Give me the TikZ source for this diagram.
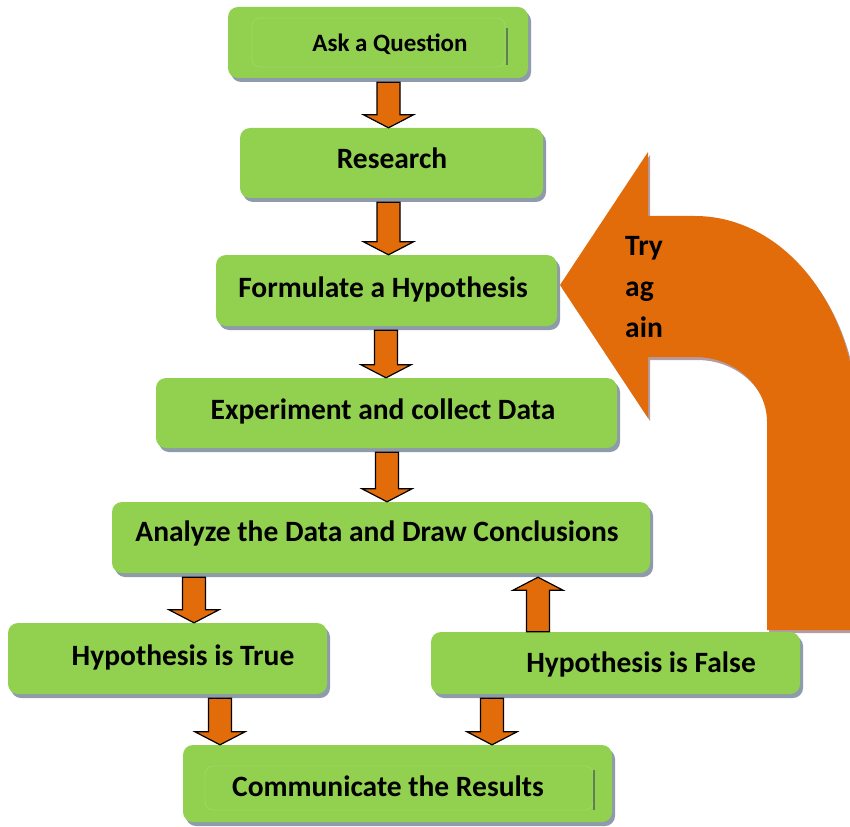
\documentclass[tikz,border=0pt]{standalone}
\usepackage{fontspec}
\setmainfont{Carlito}
\usetikzlibrary{shadows,calc}
\definecolor{boxgreen}{HTML}{92D050}
\definecolor{innergreen}{HTML}{9DD763}
\definecolor{shadowgray}{HTML}{8E9BAA}
\definecolor{arrorange}{HTML}{E36C0A}
\definecolor{bigshadow}{HTML}{B59CA0}
\definecolor{barline}{HTML}{5F7F55}
\newcommand\mydarr[3]{%
  \draw[blockarr] let \p1=(#1.south), \p2=(#2.north) in
  ({#3pt-11.5pt},\y1-4pt) -- ({#3pt+11.5pt},\y1-4pt) -- ({#3pt+11.5pt},\y2+13pt)
  -- ({#3pt+25pt},\y2+13pt) -- (#3pt,\y2) -- ({#3pt-25pt},\y2+13pt)
  -- ({#3pt-11.5pt},\y2+13pt) -- cycle;}
\newcommand\myuarr[3]{%
  \draw[blockarr] let \p1=(#1.north), \p2=(#2.south) in
  ({#3pt-11.5pt},\y1) -- ({#3pt+11.5pt},\y1) -- ({#3pt+11.5pt},\y2-17pt)
  -- ({#3pt+25pt},\y2-17pt) -- (#3pt,\y2-4pt) -- ({#3pt-25pt},\y2-17pt)
  -- ({#3pt-11.5pt},\y2-17pt) -- cycle;}
\begin{document}
\begin{tikzpicture}[x=1pt,y=-1pt,
  box/.style={fill=boxgreen, rounded corners=10pt, inner sep=0pt,
    drop shadow={shadow xshift=3pt, shadow yshift=-4pt, fill=shadowgray, opacity=1}},
  lbl/.style={font=\fontsize{29.5}{34}\selectfont\bfseries, inner sep=0pt,
    text height=19pt, text depth=0pt},
  small/.style={font=\fontsize{25}{30}\selectfont\bfseries, inner sep=0pt,
    text height=16pt, text depth=0pt},
  blockarr/.style={fill=arrorange, draw=black, line width=1.2pt, line join=miter},
  bigarr/.style={fill=arrorange},
  bigshad/.style={fill=bigshadow}]
\useasboundingbox (0,0) rectangle (850,826);
\clip (0,0) rectangle (850,826);

% big "try again" arrow
\begin{scope}[shift={(2,3)}]
\path[bigshad] (560,285) -- (648,152) -- (648,216) -- (695,216)
  .. controls (784.5,216) and (857,308.2) .. (857,422) -- (857,630) -- (767,630) -- (767,422)
  .. controls (767,386.1) and (734.8,357) .. (695,357) -- (648,357) -- (648,418) -- cycle;
\end{scope}
\path[bigarr] (560,285) -- (648,152) -- (648,216) -- (695,216)
  .. controls (784.5,216) and (857,308.2) .. (857,422) -- (857,630) -- (767,630) -- (767,422)
  .. controls (767,386.1) and (734.8,357) .. (695,357) -- (648,357) -- (648,418) -- cycle;
\node[lbl, anchor=base west] (try1) at (625,255) {Try};
\node[lbl, anchor=base west] (try2) at (625,296) {ag};
\node[lbl, anchor=base west] (try3) at (625,337) {ain};

% boxes
\node[box, minimum width=300pt, minimum height=71pt] (ask) at (378,42.5) {};
\node[box, minimum width=303pt, minimum height=70pt] (res) at (391.5,163) {};
\node[box, minimum width=341pt, minimum height=71pt] (hyp) at (386.5,290.5) {};
\node[box, minimum width=461pt, minimum height=70pt] (exp) at (386.5,413) {};
\node[box, minimum width=538pt, minimum height=71pt] (ana) at (381,537.5) {};
\node[box, minimum width=319pt, minimum height=71pt] (tru) at (167.5,658.5) {};
\node[box, minimum width=369pt, minimum height=62pt] (fal) at (615.5,663) {};
\node[box, minimum width=429pt, minimum height=77pt] (com) at (397.5,783.5) {};

% inner frames
\draw[innergreen, line width=0.8pt, rounded corners=8pt] (252,18) rectangle (505,67);
\draw[barline, line width=1.2pt] (507,28) -- (507,65);
\draw[innergreen, line width=0.8pt, rounded corners=8pt] (205,766) rectangle (593,810);
\draw[barline, line width=1.2pt] (594,770) -- (594,810);

% texts
\node[small] (askt) at (390,44) {Ask a Question};
\node[lbl] (rest) at (392,159) {Research};
\node[lbl] (hypt) at (383,288) {Formulate a Hypothesis};
\node[lbl] (expt) at (383,410) {Experiment and collect Data};
\node[lbl] (anat) at (377,532) {Analyze the Data and Draw Conclusions};
\node[lbl] (trut) at (183,656) {Hypothesis is True};
\node[lbl] (falt) at (641,663) {Hypothesis is False};
\node[lbl] (comt) at (388,787) {Communicate the Results};

% block arrows
\mydarr{ask}{res}{388.5}
\mydarr{res}{hyp}{388.5}
\mydarr{hyp}{exp}{386}
\mydarr{exp}{ana}{387}
\mydarr{ana}{tru}{194}
\myuarr{fal}{ana}{538}
\mydarr{tru}{com}{220}
\mydarr{fal}{com}{492}
\end{tikzpicture}
\end{document}
